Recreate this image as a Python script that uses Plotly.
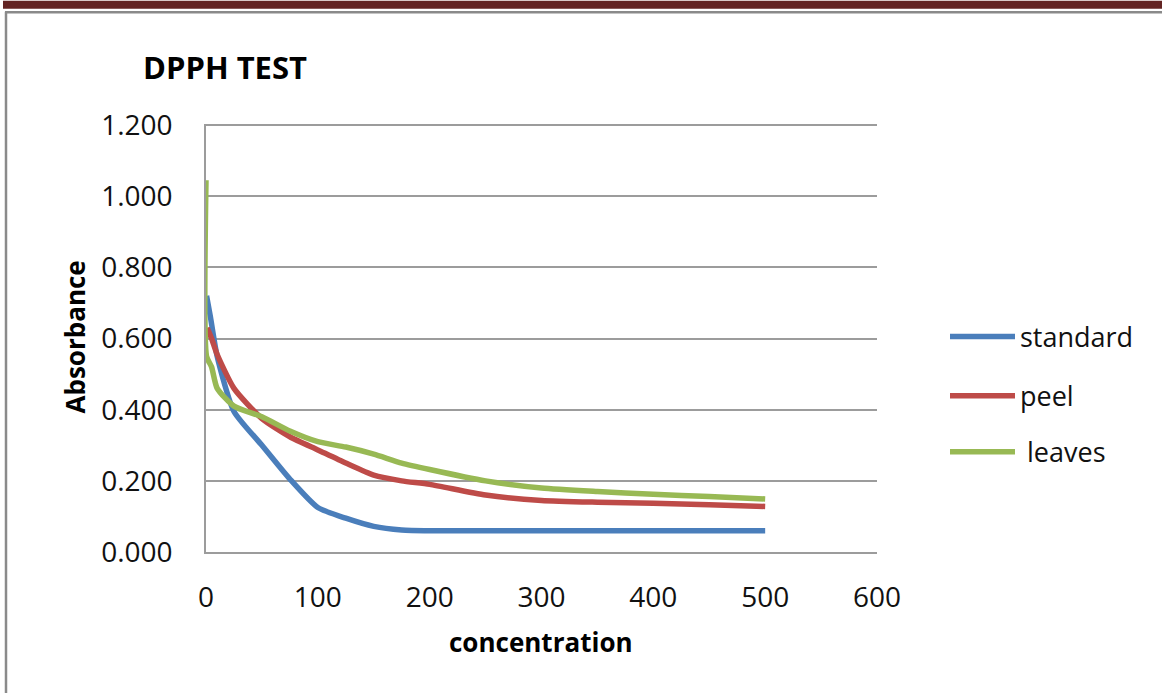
import plotly.graph_objects as go

# ---- data ----
std_x = [0.5, 4, 10, 25, 50, 75, 100, 125, 150, 175, 200, 300, 400, 500]
std_y = [0.72, 0.66, 0.55, 0.395, 0.30, 0.205, 0.125, 0.095, 0.072, 0.062, 0.060, 0.060, 0.060, 0.060]

peel_x = [1, 5, 10, 25, 50, 75, 100, 125, 150, 175, 200, 250, 300, 350, 400, 450, 500]
peel_y = [0.63, 0.60, 0.555, 0.46, 0.375, 0.324, 0.287, 0.250, 0.216, 0.200, 0.190, 0.160, 0.145, 0.140, 0.137, 0.133, 0.128]

leaves_x = [0, 0.5, 5, 10, 25, 50, 75, 100, 125, 150, 175, 200, 250, 300, 350, 400, 450, 500]
leaves_y = [1.045, 0.55, 0.52, 0.46, 0.41, 0.38, 0.34, 0.31, 0.295, 0.275, 0.25, 0.232, 0.200, 0.180, 0.170, 0.162, 0.156, 0.149]

series_names = ["standard", "peel", " leaves"]
colors = ["#4A7EBB", "#BE4B48", "#98B954"]

x_ticks = [0, 100, 200, 300, 400, 500, 600]
y_ticks = [0.0, 0.2, 0.4, 0.6, 0.8, 1.0, 1.2]

W, H = 1162, 693
L, R, T, B = 206, 877, 125, 552   # plot area in pixels

def px(x):
    return (x - L) / (R - L)

def py(y):
    return (B - y) / (B - T)

fig = go.Figure()
for xs, ys, name, c in zip([std_x, peel_x, leaves_x], [std_y, peel_y, leaves_y], series_names, colors):
    fig.add_trace(go.Scatter(x=xs, y=ys, mode="lines", name=name,
                             line=dict(color=c, width=5.5, shape="spline", smoothing=0.6),
                             showlegend=False))

FONT = "Open Sans"
grid = "#9C9C9C"

fig.update_layout(
    width=W, height=H,
    margin=dict(l=L, r=W - R, t=T - 1, b=H - B),
    paper_bgcolor="white", plot_bgcolor="white",
    font=dict(family=FONT, color="#000000"),
    xaxis=dict(range=[0, 600], tickvals=x_ticks, ticktext=[str(v) for v in x_ticks],
               showgrid=False, zeroline=False, showline=True, linecolor=grid, linewidth=1.5,
               ticks="", tickfont=dict(family=FONT, size=28, color="#111"),
               ticklabelstandoff=20),
    yaxis=dict(range=[0, 1.203], tickvals=y_ticks, ticktext=["%.3f" % v for v in y_ticks],
               showgrid=True, gridcolor=grid, gridwidth=1.5, zeroline=False,
               showline=True, linecolor=grid, linewidth=1.5,
               ticks="", tickfont=dict(family=FONT, size=28, color="#111"),
               ticklabelstandoff=26),
)

annotations = [
    dict(text="<b>DPPH TEST</b>", x=px(141), y=py(68), xanchor="left", yanchor="middle",
         font=dict(family=FONT, size=31, color="#000")),
    dict(text="<b>concentration</b>", x=px(541), y=py(642), xanchor="center", yanchor="middle",
         font=dict(family=FONT, size=26, color="#000")),
    dict(text="<b>Absorbance</b>", x=px(75), y=py(338), xanchor="center", yanchor="middle",
         textangle=-90, font=dict(family=FONT, size=26, color="#000")),
]
shapes = []
legend_y = [337, 396, 452]
for name, c, ly in zip(series_names, colors, legend_y):
    shapes.append(dict(type="line", xref="paper", yref="paper", x0=px(950), x1=px(1015),
                       y0=py(ly), y1=py(ly), line=dict(color=c, width=5.5)))
    annotations.append(dict(text=name, x=px(1018), y=py(ly), xanchor="left", yanchor="middle",
                            font=dict(family=FONT, size=27, color="#111")))

# page borders
shapes.append(dict(type="rect", xref="paper", yref="paper", x0=px(3), x1=px(1162),
                   y0=py(10), y1=py(2), line=dict(width=0), fillcolor="#632423", layer="below"))
shapes.append(dict(type="line", xref="paper", yref="paper", x0=px(5), x1=px(1162),
                   y0=py(13.5), y1=py(13.5), line=dict(color="#8A8A8A", width=2.5)))
shapes.append(dict(type="line", xref="paper", yref="paper", x0=px(6), x1=px(6),
                   y0=py(13), y1=py(693), line=dict(color="#8A8A8A", width=2.5)))

for a in annotations:
    a.setdefault("xref", "paper")
    a.setdefault("yref", "paper")
    a["showarrow"] = False
fig.update_layout(annotations=annotations, shapes=shapes)

fig.write_html("out.html")
